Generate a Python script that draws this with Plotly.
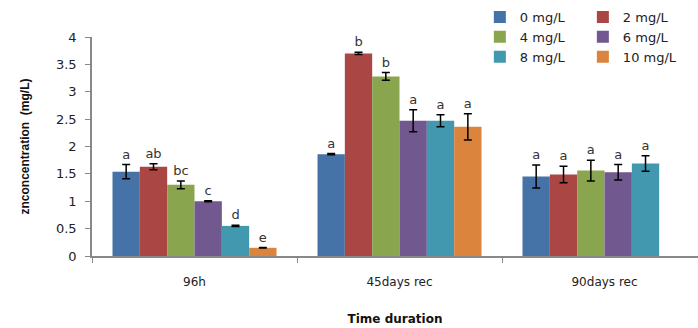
import plotly.graph_objects as go

categories = ["96h", "45days rec", "90days rec"]
series_names = ["0 mg/L", "2 mg/L", "4 mg/L", "6 mg/L", "8 mg/L", "10 mg/L"]
colors = ["#4572A7", "#AA4643", "#89A54E", "#71588F", "#4198AF", "#DB843D"]

val_0 = [1.54, 1.86, 1.45]
val_2 = [1.63, 3.70, 1.49]
val_4 = [1.30, 3.28, 1.56]
val_6 = [1.00, 2.47, 1.53]
val_8 = [0.55, 2.47, 1.69]
val_10 = [0.15, 2.36, None]

err_0 = [0.13, 0.01, 0.21]
err_2 = [0.055, 0.02, 0.15]
err_4 = [0.07, 0.07, 0.19]
err_6 = [0.01, 0.20, 0.14]
err_8 = [0.01, 0.11, 0.14]
err_10 = [0.005, 0.24, None]

lab_0 = ["a", "a", "a"]
lab_2 = ["ab", "b", "a"]
lab_4 = ["bc", "b", "a"]
lab_6 = ["c", "a", "a"]
lab_8 = ["d", "a", "a"]
lab_10 = ["e", "a", None]

values = [val_0, val_2, val_4, val_6, val_8, val_10]
errors = [err_0, err_2, err_4, err_6, err_8, err_10]
labels = [lab_0, lab_2, lab_4, lab_6, lab_8, lab_10]

FONT = "DejaVu Sans"
fig = go.Figure()

for i, name in enumerate(series_names):
    fig.add_trace(go.Bar(
        x=categories, y=values[i], name=name, offsetgroup=str(i),
        legend="legend" if i % 2 == 0 else "legend2",
        marker=dict(color=colors[i], line=dict(width=0)),
        error_y=dict(type="data", array=errors[i], color="black", thickness=1.5, width=4),
    ))

for i, name in enumerate(series_names):
    tops = [None if v is None else v + e for v, e in zip(values[i], errors[i])]
    fig.add_trace(go.Bar(
        x=categories, y=tops, offsetgroup=str(i), showlegend=False,
        marker=dict(color="rgba(0,0,0,0)", line=dict(width=0)),
        text=labels[i], textposition="outside", cliponaxis=False,
        constraintext="none", hoverinfo="skip",
        textfont=dict(family=FONT, size=13, color="#333333"),
    ))

legend_common = dict(orientation="v", yanchor="top", y=1.16, xanchor="left",
                     tracegroupgap=0, itemwidth=30, bgcolor="rgba(0,0,0,0)",
                     font=dict(family=FONT, size=13, color="#222222"), traceorder="normal")

fig.update_layout(
    width=698, height=328, barmode="group", bargap=0.2, bargroupgap=0,
    paper_bgcolor="white", plot_bgcolor="white",
    margin=dict(l=92, r=0, t=37, b=72),
    font=dict(family=FONT, size=13, color="#222222"),
    legend=dict(x=0.64, **legend_common),
    legend2=dict(x=0.81, **legend_common),
    xaxis=dict(range=[-0.5, 2.456], showline=True, linecolor="#888888", linewidth=1.5,
               ticks="outside", tickson="boundaries", ticklen=5, tickcolor="#888888",
               ticklabelstandoff=14, showgrid=False,
               tickfont=dict(family=FONT, size=12, color="#222222"),
               title=dict(text="<b>Time duration</b>", font=dict(family=FONT, size=12, color="#111111"), standoff=26)),
    yaxis=dict(range=[0, 4], dtick=0.5, showline=True, linecolor="#888888", linewidth=1.5,
               ticks="outside", ticklen=5, tickcolor="#888888", showgrid=False, zeroline=False,
               tickformat="~g", ticklabelstandoff=6,
               tickfont=dict(family=FONT, size=13, color="#222222"),
               title=dict(text="<b>znconcentration  (mg/L)</b>", font=dict(family="Liberation Sans Narrow, Liberation Sans", size=12, color="#111111"), standoff=24)),
)

fig.write_html("out.html")
